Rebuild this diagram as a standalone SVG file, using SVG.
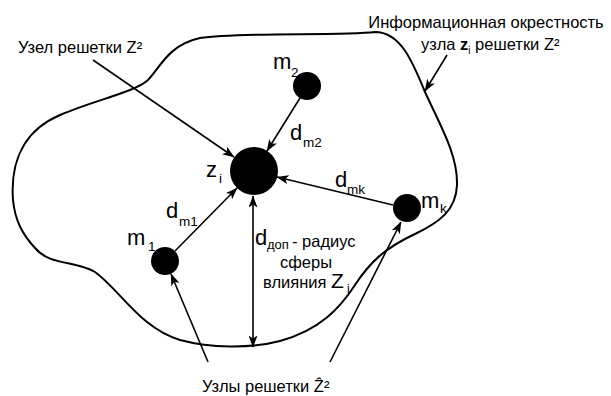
<svg xmlns="http://www.w3.org/2000/svg" width="611" height="396" viewBox="0 0 611 396">
<defs>
<marker id="ah" viewBox="0 0 12 9" markerWidth="12" markerHeight="9" refX="11.5" refY="4.5" orient="auto-start-reverse" markerUnits="userSpaceOnUse">
<path d="M0,0 L12,4.5 L0,9 L3,4.5 z" fill="#000"/>
</marker>
<style>
text{font-family:"Liberation Sans",Arial,sans-serif;fill:#000}
.t{font-size:16.5px}
.big{font-size:22px}
.sub{font-size:13.5px}
.ln{stroke:#000;stroke-width:1.6;fill:none;marker-end:url(#ah)}
.node{fill:#000}
</style>
</defs>
<rect width="611" height="396" fill="#fff"/>
<g id="outline">
<path d="M13,200 C10,160 25,130 60,115 C95,100 135,92 148,80 C160,68 168,45 200,38 C240,32 340,36 375,32 C400,32 412,60 425,92 C440,125 458,155 457,185 C456,210 440,222 415,234 C385,248 370,262 355,285 C340,308 320,330 280,341 C250,349 210,348 180,340 C140,328 120,290 95,272 C75,260 50,266 35,248 C22,234 15,220 13,200 Z" fill="none" stroke="#000" stroke-width="2"/>
</g>
<g id="connectors">
<line class="ln" x1="93" y1="60" x2="234" y2="157"/>
<line class="ln" x1="300" y1="98" x2="267" y2="151"/>
<line class="ln" x1="175" y1="251" x2="237" y2="188"/>
<line class="ln" x1="393" y1="205" x2="277" y2="177"/>
<line class="ln" x1="253" y1="196" x2="253" y2="347" style="marker-start:url(#ah)"/>
<line class="ln" x1="208" y1="362" x2="171" y2="274"/>
<line class="ln" x1="330" y1="362" x2="401" y2="222"/>
<line class="ln" x1="447" y1="55" x2="425" y2="91"/>
</g>
<g id="node-zi">
<circle class="node" cx="254" cy="171" r="24"/>
<text class="big" x="206" y="177">z</text><text class="sub" x="219" y="183">i</text>
</g>
<g id="node-m2">
<circle class="node" cx="307" cy="86" r="14"/>
<text class="big" x="273" y="69">m</text><text class="sub" x="291" y="77">2</text>
</g>
<g id="node-m1">
<circle class="node" cx="165" cy="261" r="14"/>
<text class="big" x="127" y="245">m</text><text class="sub" x="148" y="251">1</text>
</g>
<g id="node-mk">
<circle class="node" cx="407" cy="208" r="14"/>
<text class="big" x="421" y="208">m</text><text class="sub" x="440" y="213">k</text>
</g>
<g id="labels">
<text class="big" x="255" y="245">d</text><text class="sub" x="267" y="249" style="font-size:13px">доп</text><text class="t" x="292" y="247">- радиус</text>
<text class="t" x="306" y="268" text-anchor="middle">сферы</text>
<text class="big" x="290" y="140">d</text><text class="sub" x="303" y="147">m2</text>
<text class="big" x="335" y="187">d</text><text class="sub" x="347" y="194">mk</text>
<text class="big" x="166" y="218">d</text><text class="sub" x="179" y="226">m1</text>
<text class="t" x="263" y="288">влияния <tspan font-size="21px">Z</tspan></text><text style="font-size:12px" x="347" y="293">i</text>
<text class="t" x="486" y="28" text-anchor="middle">Информационная окрестность</text>
<text class="t" x="421" y="50">узла <tspan font-weight="bold">z</tspan><tspan style="font-size:10px" dy="4">i</tspan><tspan dy="-4"> решетки Z²</tspan></text>
<text class="t" x="18" y="53">Узел решетки Z²</text>
<text class="t" x="202" y="392">Узлы решетки Ẑ²</text>
</g>
</svg>
